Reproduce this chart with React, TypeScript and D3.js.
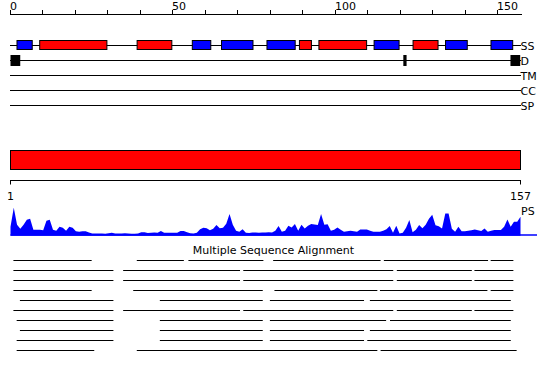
import React from "react";
import * as d3 from "d3";

// ---------- data ----------
const SEQ_LEN = 157;
const rulerTicks = d3.range(0, 151, 10);
const rulerLabels = [0, 50, 100, 150];

const trackLabels = ["SS", "D", "TM", "CC", "SP"];

// secondary structure: H = helix (red), E = strand (blue); residue spans
const ssType = ["E", "H", "H", "E", "E", "E", "H", "H", "E", "H", "E", "E"];
const ssStart = [2, 9, 39, 56, 65, 79, 89, 95, 112, 124, 134, 148];
const ssEnd = [7, 30, 50, 62, 75, 88, 93, 110, 120, 132, 141, 155];

// disordered residues (1-based)
const disStart = [1, 122, 155];
const disEnd = [3, 122, 157];

// domain bar
const domainStart = [1];
const domainEnd = [157];
const domainTicks = [1, 157];

// PS profile (per residue)
const psValues = [
  9, 28, 11, 7, 11, 16, 17, 6, 6, 6,
  5.5, 15, 16, 6, 5, 9, 8, 5, 9, 8,
  4.5, 4, 4.5, 4.5, 3.3, 2.3, 2.3, 2.3, 2.3, 2,
  2.5, 3, 2.3, 2.3, 2.3, 2.5, 2.3, 2, 2, 2.3,
  3.5, 3.5, 2.8, 3, 3.3, 3, 4.7, 3, 3, 3,
  3, 3, 4.7, 4.7, 3.5, 2.5, 2.3, 3, 6.5, 8,
  7.5, 5.5, 7, 10.7, 7.5, 8, 12, 21.7, 11, 5,
  4, 6.5, 3, 2.7, 3.3, 3.3, 3, 3.3, 3.3, 3.5,
  3.3, 5, 9.7, 4, 5, 10, 8.3, 11.7, 5, 11,
  7.3, 10, 11.7, 11.3, 10.7, 21.7, 11, 11.5, 5, 6,
  8.3, 6, 4, 4.5, 5, 4.5, 4, 6.3, 6.3, 6.3,
  5, 4, 4, 4, 5, 6.5, 9.7, 3, 10, 2.3,
  3, 8, 15.7, 3.5, 6, 10.7, 7.5, 11, 17, 21,
  10.5, 9.5, 7.3, 22.3, 22.3, 7, 4, 9, 4.5, 4.5,
  5, 5.5, 6.3, 5.5, 4.7, 7.3, 4, 5, 5.7, 5.7,
  5.7, 9, 16.3, 9, 14, 14, 19,
];

// multiple sequence alignment: each row is a list of [start, end] spans (residue units)
const msaRows: number[][][] = [
  [[0.9, 25.0], [38.9, 53.4], [54.8, 77.9], [80.9, 114.0], [115.0, 147.1], [147.9, 154.9]],
  [[0.9, 31.7], [34.7, 70.7], [71.7, 117.9], [119.0, 142.1], [142.9, 154.9]],
  [[0.9, 31.7], [34.7, 70.7], [71.7, 117.9], [119.0, 142.1], [142.9, 154.9]],
  [[0.9, 25.0], [37.8, 77.7], [81.3, 113.0], [113.8, 146.9], [147.9, 154.9]],
  [[2.9, 31.7], [46.0, 77.7], [79.9, 108.9], [110.7, 154.1]],
  [[0.9, 31.7], [34.7, 70.7], [71.7, 117.9], [119.0, 142.1], [142.9, 154.9]],
  [[1.9, 31.7], [46.0, 77.7], [79.9, 115.7], [116.9, 154.1]],
  [[2.9, 31.7], [46.0, 77.7], [79.9, 108.9], [110.7, 154.1]],
  [[1.9, 31.7], [46.0, 77.7], [79.9, 108.9], [109.9, 154.1]],
  [[1.9, 25.8], [38.9, 113.0], [114.0, 155.9]],
];
const msaTitle = "Multiple Sequence Alignment";

// ---------- chart ----------
const FONT = "DejaVu Sans";
const RED = "#ff0000";
const BLUE = "#0000ff";

export default function App() {
  const x = d3.scaleLinear().domain([0, SEQ_LEN]).range([10.5, 520.2]);
  const xd = d3.scaleLinear().domain([1, SEQ_LEN]).range([10.5, 520.5]);
  const trackY = d3.scalePoint<string>().domain(trackLabels).range([45.5, 105.5]);
  const psY = d3.scaleLinear().domain([0, 30]).range([235.7, 205.7]);
  const rowY = d3.scaleLinear().domain([0, msaRows.length - 1]).range([260.5, 350.5]);

  const area = d3
    .area<number>()
    .x((_, i) => xd(i + 1))
    .y0(psY(0))
    .y1((d) => psY(d))
    .curve(d3.curveLinear);

  const snap = (v: number) => Math.floor(v) + 0.5;

  return (
    <svg
      width={550}
      height={380}
      style={{ position: "absolute", left: 0, top: 0, background: "#fff" }}
      fontFamily={FONT}
    >
      <rect x={0} y={0} width={550} height={380} fill="#fff" />

      {/* ruler */}
      <line x1={10} x2={522} y1={14.5} y2={14.5} stroke="#000" strokeWidth={1} />
      {rulerTicks.map((t) => (
        <line key={t} x1={snap(x(t))} x2={snap(x(t))} y1={10} y2={15} stroke="#000" strokeWidth={1} />
      ))}
      {rulerLabels.map((t) => (
        <text key={t} x={snap(x(t)) - 0.5} y={10} fontSize={11} fill="#000">
          {t}
        </text>
      ))}

      {/* tracks */}
      {trackLabels.map((lab) => (
        <g key={lab}>
          <line x1={10} x2={521} y1={trackY(lab)} y2={trackY(lab)} stroke="#000" strokeWidth={1} />
          <text x={520.5} y={(trackY(lab) as number) + 4.5} fontSize={11} fill="#000">
            {lab}
          </text>
        </g>
      ))}

      {/* secondary structure */}
      {ssType.map((t, i) => (
        <rect
          key={i}
          x={x(ssStart[i])}
          y={40.5}
          width={x(ssEnd[i]) - x(ssStart[i]) - 1}
          height={9}
          fill={t === "H" ? RED : BLUE}
          stroke="#000"
          strokeWidth={1}
        />
      ))}

      {/* disorder */}
      {disStart.map((s, i) => (
        <rect
          key={i}
          x={x(s - 1)}
          y={55}
          width={x(disEnd[i]) - x(s - 1)}
          height={11}
          fill="#000"
        />
      ))}

      {/* domain bar */}
      {domainStart.map((s, i) => (
        <rect
          key={i}
          x={10.5}
          y={150.5}
          width={xd(domainEnd[i]) - xd(s)}
          height={19}
          fill={RED}
          stroke="#000"
          strokeWidth={1}
        />
      ))}
      <line x1={10} x2={521} y1={180.5} y2={180.5} stroke="#000" strokeWidth={1} />
      {domainTicks.map((t) => (
        <g key={t}>
          <line x1={xd(t)} x2={xd(t)} y1={180} y2={184.5} stroke="#000" strokeWidth={1} />
          <text x={xd(t)} y={200} fontSize={11} textAnchor="middle" fill="#000">
            {t}
          </text>
        </g>
      ))}

      {/* PS profile */}
      <text x={521} y={215} fontSize={11} fill="#000">
        PS
      </text>
      <path d={area(psValues) ?? ""} fill={BLUE} stroke="none" />
      <line x1={10.5} x2={537} y1={235} y2={235} stroke={BLUE} strokeWidth={1.5} />

      {/* MSA */}
      <text x={273.5} y={254} fontSize={11} textAnchor="middle" fill="#000">
        {msaTitle}
      </text>
      {msaRows.map((row, r) =>
        row.map((seg, j) => (
          <line
            key={`${r}-${j}`}
            x1={x(seg[0])}
            x2={x(seg[1])}
            y1={rowY(r)}
            y2={rowY(r)}
            stroke="#000"
            strokeWidth={1}
          />
        ))
      )}
    </svg>
  );
}
